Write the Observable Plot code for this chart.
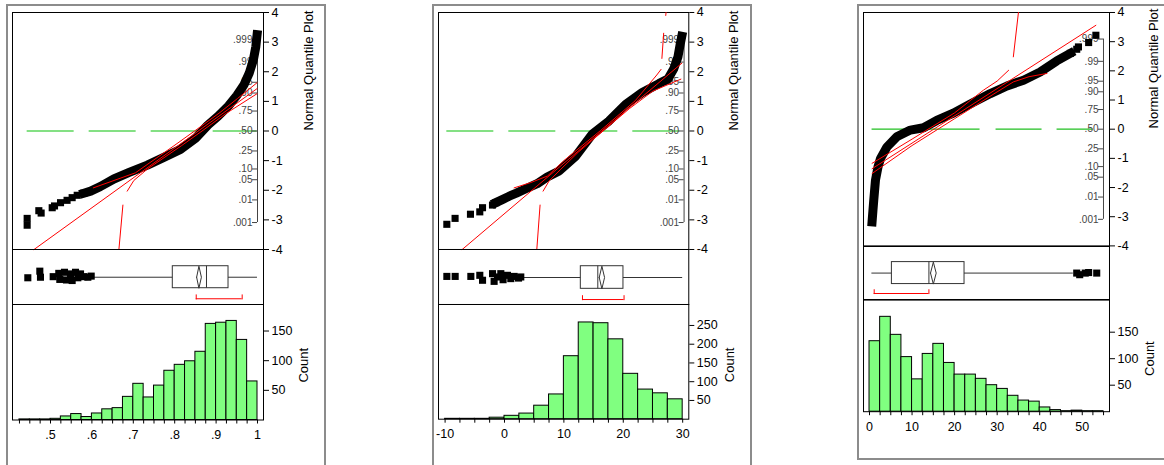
<!DOCTYPE html>
<html>
<head>
<meta charset="utf-8">
<script src="https://cdn.jsdelivr.net/npm/d3@7"></script>
<script src="https://cdn.jsdelivr.net/npm/@observablehq/plot@0.6"></script>
<style>
  html, body { margin: 0; padding: 0; background: #fff; width: 1164px; height: 465px; overflow: hidden; }
  #root { position: relative; width: 1164px; height: 465px; }
  .outer { position: absolute; border: 2px solid #8c8c8c; box-sizing: border-box; }
  .chart { position: absolute; }
  .chart svg { overflow: visible; background: transparent; max-width: none; }
</style>
</head>
<body>
<div id="root"></div>
<script>
// ------------------------------------------------------------------
// DATA
// ------------------------------------------------------------------
const probLabels    = [".001", ".01", ".05", ".10", ".25", ".50", ".75", ".90", ".95", ".99", ".999"];
const probQuantiles = [-3.09, -2.326, -1.645, -1.282, -0.674, 0, 0.674, 1.282, 1.645, 2.326, 3.09];
const quantileTicks = [-4, -3, -2, -1, 0, 1, 2, 3, 4];

// ---------------- Panel 1 (values 0.4 .. 1) ----------------
const p1BinStart = 0.425, p1BinWidth = 0.025;
const p1Counts = [1, 1, 1, 2, 6, 10, 5, 11, 18, 20, 39, 61, 38, 58, 83, 93, 99, 115, 162, 164, 167, 135, 65];
const p1CountTicks = [50, 100, 150];
const p1XTicks = [0.5, 0.6, 0.7, 0.8, 0.9, 1];
const p1XTickLabels = [".5", ".6", ".7", ".8", ".9", "1"];
const p1TailV = [0.4436, 0.4436, 0.4718, 0.4774, 0.5041, 0.5097, 0.5242, 0.540, 0.5523, 0.5645, 0.5805];
const p1TailQ = [-3.18, -2.95, -2.69, -2.77, -2.59, -2.53, -2.42, -2.34, -2.25, -2.17, -2.10];
const p1BandV = [0.5805, 0.597, 0.62, 0.653, 0.69, 0.734, 0.775, 0.814, 0.85, 0.88, 0.905, 0.93, 0.95, 0.967, 0.98, 0.99, 0.996, 0.999];
const p1BandQ = [-2.10, -2.03, -1.88, -1.62, -1.40, -1.15, -0.88, -0.62, -0.25, 0.2, 0.5, 0.85, 1.2, 1.55, 1.95, 2.4, 2.85, 3.25];
const p1Fit = [0.857, 0.0992]; // mean, std dev
const p1UpperBandV = [0.6034, 0.7053, 0.798, 0.848, 0.907, 0.952, 0.999];
const p1UpperBandQ = [-1.92, -1.41, -0.5, 0, 0.6, 1.1, 1.63];
const p1LowerBandAV = [0.6652, 0.6749];
const p1LowerBandAQ = [-4.0, -2.5];
const p1LowerBandBV = [0.6853, 0.7013, 0.7336, 0.816, 0.866, 0.925, 0.999];
const p1LowerBandBQ = [-2.03, -1.67, -1.29, -0.5, 0, 0.6, 1.26];
const p1Whiskers = [0.6046, 1.0];
const p1Quartiles = [0.7954, 0.8768, 0.930];
const p1MeanCI = [0.853, 0.8585, 0.8645];
const p1ShortestHalf = [0.852, 0.963];
const p1OutlierV = [0.4452, 0.4742, 0.4758, 0.5065, 0.52, 0.5225, 0.5338, 0.5386, 0.5483, 0.5523, 0.5604, 0.566, 0.5725, 0.5805, 0.5902, 0.5983];
const p1OutlierJitter = [-0.01, 0.11, 0, 0.01, 0.07, -0.04, 0.09, -0.05, 0.06, -0.06, 0.09, -0.01, 0.06, 0.01, 0, 0.02];

// ---------------- Panel 2 (values -10 .. 30) ----------------
const p2BinStart = -10, p2BinWidth = 2.5;
const p2Counts = [1, 1, 1, 4, 9, 15, 36, 66, 168, 258, 256, 213, 121, 79, 69, 53];
const p2CountTicks = [50, 100, 150, 200, 250];
const p2XTicks = [-10, 0, 10, 20, 30];
const p2XTickLabels = ["-10", "0", "10", "20", "30"];
const p2TailV = [-9.71, -8.32, -5.73, -4.16, -3.70, -2.02, -1.46];
const p2TailQ = [-3.15, -2.95, -2.81, -2.73, -2.59, -2.50, -2.42];
const p2BandV = [-1.46, -0.2, 0.8, 2.0, 3.6, 5.5, 7.2, 9.2, 12.0, 14.8, 17.6, 20.4, 23.2, 26.0, 27.5, 28.5, 29.2, 29.6, 29.85];
const p2BandQ = [-2.42, -2.3, -2.2, -2.1, -1.95, -1.78, -1.55, -1.35, -0.85, -0.1, 0.34, 0.9, 1.3, 1.6, 1.75, 2.1, 2.5, 2.95, 3.2];
const p2Fit = [16.4, 5.88];
const p2UpperBandV = [1.62, 4.43, 7.24, 10, 16.2, 22, 25.64, 26.36];
const p2UpperBandQ = [-1.92, -1.74, -1.52, -1.0, 0.02, 1.02, 1.89, 2.08];
const p2UpperBand2V = [26.5, 26.8];
const p2UpperBand2Q = [2.45, 3.3];
const p2UpperBand3V = [27.15, 27.2];
const p2UpperBand3Q = [3.9, 4.0];
const p2LowerBandAV = [5.44, 5.99];
const p2LowerBandAQ = [-4.0, -2.5];
const p2LowerBandBV = [6.5, 7.5, 9.48, 12.5, 16.6, 21, 25, 29.7];
const p2LowerBandBQ = [-2.03, -1.69, -1.29, -0.7, 0.0, 0.75, 1.35, 1.75];
const p2Whiskers = [3.03, 30];
const p2Quartiles = [12.85, 15.71, 20.03];
const p2MeanCI = [15.95, 16.4, 16.85];
const p2ShortestHalf = [13.13, 20.13];
const p2OutlierV = [-9.71, -8.31, -5.67, -4.16, -3.70, -2.02, -1.75, -1.18, -0.62, -0.24, 0.5, 1.06, 1.62, 2.36, 2.74];
const p2OutlierJitter = [0.02, 0.02, 0.02, 0.04, -0.05, 0.07, -0.07, 0.01, 0.07, -0.04, 0.04, -0.02, 0.02, -0.01, 0.01];

// ---------------- Panel 3 (values 0 .. 55) ----------------
const p3BinStart = 0, p3BinWidth = 2.5;
const p3Counts = [133, 179, 145, 103, 61, 109, 128, 92, 70, 70, 62, 50, 43, 30, 21, 19, 8, 3, 1, 2, 1, 1];
const p3CountTicks = [50, 100, 150];
const p3XTicks = [0, 10, 20, 30, 40, 50];
const p3XTickLabels = ["0", "10", "20", "30", "40", "50"];
const p3TailV = [47.2, 48.7, 49.1, 51.5, 53.2];
const p3TailQ = [2.6, 2.74, 2.82, 2.97, 3.22];
const p3BandV = [0.6, 0.8, 1.0, 1.4, 2.0, 2.6, 4.1, 6.4, 9.6, 12.7, 15.8, 19.7, 23.5, 28.4, 32.3, 36.2, 40.1, 44.0, 47.2];
const p3BandQ = [-3.18, -2.8, -2.43, -1.75, -1.29, -1.0, -0.61, -0.26, -0.03, 0.05, 0.3, 0.55, 0.85, 1.22, 1.48, 1.68, 1.96, 2.34, 2.6];
const p3Fit = [15.1, 10.7];
const p3UpperBandV = [0.6, 10, 20, 26.8, 30, 32.7];
const p3UpperBandQ = [-1.17, -0.34, 0.56, 1.34, 1.65, 2.02];
const p3UpperBand2V = [33.8, 35.0];
const p3UpperBand2Q = [2.48, 4.0];
const p3LowerBandV = [0.6, 10, 20, 30, 33.8, 37.5, 41.7];
const p3LowerBandQ = [-1.52, -0.56, 0.36, 1.28, 1.62, 1.8, 1.91];
const p3Whiskers = [0.56, 47.9];
const p3Quartiles = [5.26, 13.96, 22.33];
const p3MeanCI = [14.34, 15.0, 15.67];
const p3ShortestHalf = [1.1, 13.96];
const p3OutlierV = [48.7, 49.4, 50.7, 51.5, 53.4];
const p3OutlierJitter = [0, -0.03, 0, 0.01, 0];

// ------------------------------------------------------------------
// DRAWING
// ------------------------------------------------------------------
const FONT = '"Liberation Sans", Arial, Helvetica, sans-serif';
const TICK_FS = 12.5;
const zip = (a, b) => a.map((v, i) => ({v, q: b[i]}));
const minusFmt = d => (d < 0 ? "-" + (-d) : String(d));

function buildPanel(cfg) {
  const root = document.getElementById("root");
  const W = cfg.plotR - cfg.plotL;
  const mL = 4, mR = 70, mT = 4;
  const style = `background: transparent; overflow: visible; font-family: ${FONT}; font-size: ${TICK_FS}px; color: black; max-width: none;`;

  function place(svg, top) {
    const d = document.createElement("div");
    d.className = "chart";
    d.style.left = (cfg.plotL - mL) + "px";
    d.style.top = (top - mT) + "px";
    d.style.width = (W + mL + mR) + "px";
    d.appendChild(svg);
    root.appendChild(d);
  }

  // ---------- Normal quantile plot ----------
  const band = zip(cfg.bandV, cfg.bandQ);
  const tail = zip(cfg.tailV, cfg.tailQ);
  const allV = cfg.bandV.concat(cfg.tailV);
  const vmin = Math.min(...allV), vmax = Math.max(...allV);
  const [mean, sd] = cfg.fit;
  const qLo = Math.max(-4, (vmin - mean) / sd), qHi = Math.min(4, (vmax - mean) / sd);
  const fitPts = [{v: mean + sd * qLo, q: qLo}, {v: mean + sd * qHi, q: qHi}];
  const redLines = cfg.bands.map(b => Plot.line(zip(b[0], b[1]), {x: "v", y: "q", stroke: "#ff0000", strokeWidth: 1}));
  const probFmt = d => probLabels[probQuantiles.indexOf(d)];

  const qqH = cfg.qqBot - cfg.qqTop;
  const qq = Plot.plot({
    width: W + mL + mR, height: qqH + mT + 4,
    marginLeft: mL, marginRight: mR, marginTop: mT, marginBottom: 4,
    style,
    x: {domain: cfg.xDomain, axis: null},
    y: {domain: [-4, 4], axis: null},
    marks: [
      Plot.frame({stroke: "black"}),
      Plot.ruleY([0], {x1: () => cfg.greenRange[0], x2: () => cfg.greenRange[1], stroke: cfg.green, strokeWidth: cfg.greenW, strokeDasharray: cfg.dash}),
      Plot.ruleX([0], {x: () => cfg.xDomain[1], y1: () => probQuantiles[0], y2: () => probQuantiles[probQuantiles.length - 1], dx: -cfg.probDx, stroke: "#444"}),
      Plot.axisY(probQuantiles, {anchor: "left", frameAnchor: "right", dx: -cfg.probDx, tickSize: 5, tickPadding: 0, fontSize: 10, fontFamily: FONT, color: "#444", tickFormat: probFmt, label: null}),
      Plot.line(band, {x: "v", y: "q", stroke: "black", strokeWidth: 9, strokeLinejoin: "round", strokeLinecap: "square"}),
      Plot.dot(tail, {x: "v", y: "q", symbol: "square", r: 4, fill: "black", stroke: null}),
      Plot.line(fitPts, {x: "v", y: "q", stroke: "#ff0000", strokeWidth: 1}),
      ...redLines,
      Plot.axisY(quantileTicks, {anchor: "right", tickSize: 5, tickPadding: 3, tickFormat: minusFmt, fontSize: TICK_FS, fontFamily: FONT, label: null}),
      Plot.text(["Normal Quantile Plot"], {frameAnchor: "top-right", dx: cfg.labelDx, dy: cfg.qqLabelDy, rotate: -90, textAnchor: "middle", lineAnchor: "middle", fontSize: 13, fontFamily: FONT, fill: "black"})
    ]
  });
  place(qq, cfg.qqTop);

  // ---------- Box plot ----------
  const [b0, b1, br] = cfg.boxFrac;
  const mid = (b0 + b1) / 2;
  const [q1, med, q3] = cfg.quartiles;
  const [ciLo, mu, ciHi] = cfg.meanCI;
  const diamond = [{v: ciLo, y: mid}, {v: mu, y: b1}, {v: ciHi, y: mid}, {v: mu, y: b0}, {v: ciLo, y: mid}];
  const outliers = cfg.outV.map((v, i) => ({v, y: mid + cfg.outJ[i]}));
  const bxH = cfg.boxBot - cfg.qqBot;
  const bx = Plot.plot({
    width: W + mL + mR, height: bxH + mT + 4,
    marginLeft: mL, marginRight: mR, marginTop: mT, marginBottom: 4,
    style,
    x: {domain: cfg.xDomain, axis: null},
    y: {domain: [0, 1], axis: null},
    marks: [
      Plot.frame({stroke: "black"}),
      Plot.ruleY([0], {x1: () => cfg.whiskers[0], x2: () => q1, y: () => mid, stroke: "#333"}),
      Plot.ruleY([0], {x1: () => q3, x2: () => cfg.whiskers[1], y: () => mid, stroke: "#333"}),
      Plot.rect([0], {x1: () => q1, x2: () => q3, y1: () => b0, y2: () => b1, fill: "none", stroke: "#333", inset: 0}),
      Plot.ruleX([med], {x: d => d, y1: () => b0, y2: () => b1, stroke: "#333"}),
      Plot.line(diamond, {x: "v", y: "y", stroke: "#333", strokeWidth: 1}),
      Plot.dot(outliers, {x: "v", y: "y", symbol: "square", r: 4, fill: "black", stroke: null}),
      Plot.ruleY([0], {x1: () => cfg.shortestHalf[0], x2: () => cfg.shortestHalf[1], y: () => br, stroke: "#ff0000"}),
      Plot.ruleX(cfg.shortestHalf, {x: d => d, y1: () => br - 0.02, y2: () => br + 0.07, stroke: "#ff0000"})
    ]
  });
  place(bx, cfg.qqBot);

  // ---------- Histogram ----------
  const edges = d3.range(cfg.counts.length + 1).map(i => +(cfg.binStart + i * cfg.binWidth).toFixed(6));
  const bins = cfg.counts.map((c, i) => ({x1: edges[i], x2: edges[i + 1], c}));
  const xFmt = d => {
    const i = cfg.xTicks.findIndex(t => Math.abs(t - d) < 1e-6);
    return i < 0 ? "" : cfg.xTickLabels[i];
  };
  const hH = cfg.histBot - cfg.boxBot;
  const hist = Plot.plot({
    width: W + mL + mR, height: hH + mT + 34,
    marginLeft: mL, marginRight: mR, marginTop: mT, marginBottom: 34,
    style,
    x: {domain: cfg.xDomain},
    y: {domain: [0, cfg.countMax]},
    marks: [
      Plot.rectY(bins, {x1: "x1", x2: "x2", y: "c", fill: "#80ff80", stroke: "black", strokeWidth: 1, inset: 0}),
      Plot.frame({stroke: "black"}),
      Plot.axisY(cfg.countTicks, {anchor: "right", tickSize: 5, tickPadding: 3, fontSize: TICK_FS, fontFamily: FONT, label: null}),
      Plot.axisX(edges, {anchor: "bottom", tickSize: 4, tickPadding: 6, tickFormat: xFmt, fontSize: TICK_FS, fontFamily: FONT, label: null}),
      Plot.text(["Count"], {frameAnchor: "right", dx: cfg.countDx, dy: 3, rotate: -90, textAnchor: "middle", lineAnchor: "middle", fontSize: 13, fontFamily: FONT, fill: "black"})
    ]
  });
  place(hist, cfg.boxBot);

  // ---------- outer frame ----------
  const o = document.createElement("div");
  o.className = "outer";
  Object.assign(o.style, cfg.outer);
  root.appendChild(o);
}

buildPanel({
  plotL: 12, plotR: 263, qqTop: 12, qqBot: 249, boxBot: 304, histBot: 419.5,
  xDomain: [0.4082, 1.0145], countMax: 194.7,
  probDx: 6, labelDx: 45.5, qqLabelDy: 58, countDx: 40.5,
  green: "#5cd65c", greenW: 1.6, dash: "47,15", greenRange: [0.4436, 0.999],
  bandV: p1BandV, bandQ: p1BandQ, tailV: p1TailV, tailQ: p1TailQ, fit: p1Fit,
  bands: [[p1UpperBandV, p1UpperBandQ], [p1LowerBandAV, p1LowerBandAQ], [p1LowerBandBV, p1LowerBandBQ]],
  boxFrac: [0.296, 0.696, 0.104],
  whiskers: p1Whiskers, quartiles: p1Quartiles, meanCI: p1MeanCI, shortestHalf: p1ShortestHalf,
  outV: p1OutlierV, outJ: p1OutlierJitter,
  counts: p1Counts, binStart: p1BinStart, binWidth: p1BinWidth, countTicks: p1CountTicks,
  xTicks: p1XTicks, xTickLabels: p1XTickLabels,
  outer: {left: "6px", top: "4px", width: "320px", height: "520px"}
});

buildPanel({
  plotL: 437.7, plotR: 688, qqTop: 12, qqBot: 249, boxBot: 304, histBot: 418.7,
  xDomain: [-11.11, 31.03], countMax: 305.9,
  probDx: 4.7, labelDx: 45.5, qqLabelDy: 58, countDx: 41,
  green: "#5cd65c", greenW: 1.6, dash: "47,15", greenRange: [-9.71, 29.85],
  bandV: p2BandV, bandQ: p2BandQ, tailV: p2TailV, tailQ: p2TailQ, fit: p2Fit,
  bands: [[p2UpperBandV, p2UpperBandQ], [p2UpperBand2V, p2UpperBand2Q], [p2UpperBand3V, p2UpperBand3Q], [p2LowerBandAV, p2LowerBandAQ], [p2LowerBandBV, p2LowerBandBQ]],
  boxFrac: [0.285, 0.696, 0.09],
  whiskers: p2Whiskers, quartiles: p2Quartiles, meanCI: p2MeanCI, shortestHalf: p2ShortestHalf,
  outV: p2OutlierV, outJ: p2OutlierJitter,
  counts: p2Counts, binStart: p2BinStart, binWidth: p2BinWidth, countTicks: p2CountTicks,
  xTicks: p2XTicks, xTickLabels: p2XTickLabels,
  outer: {left: "431.5px", top: "4px", width: "320px", height: "520px"}
});

buildPanel({
  plotL: 863.3, plotR: 1109.3, qqTop: 12.3, qqBot: 245.7, boxBot: 299.3, histBot: 411.5,
  xDomain: [-1.41, 56.4], countMax: 211.7,
  probDx: 6, labelDx: 44.5, qqLabelDy: 56, countDx: 40.7,
  green: "#22c022", greenW: 1.2, dash: "108,16,46,15,36,300", greenRange: [0.6, 53.4],
  bandV: p3BandV, bandQ: p3BandQ, tailV: p3TailV, tailQ: p3TailQ, fit: p3Fit,
  bands: [[p3UpperBandV, p3UpperBandQ], [p3UpperBand2V, p3UpperBand2Q], [p3LowerBandV, p3LowerBandQ]],
  boxFrac: [0.299, 0.709, 0.123],
  whiskers: p3Whiskers, quartiles: p3Quartiles, meanCI: p3MeanCI, shortestHalf: p3ShortestHalf,
  outV: p3OutlierV, outJ: p3OutlierJitter,
  counts: p3Counts, binStart: p3BinStart, binWidth: p3BinWidth, countTicks: p3CountTicks,
  xTicks: p3XTicks, xTickLabels: p3XTickLabels,
  outer: {left: "856.5px", top: "4px", width: "400px", height: "456px"}
});
</script>
</body>
</html>
